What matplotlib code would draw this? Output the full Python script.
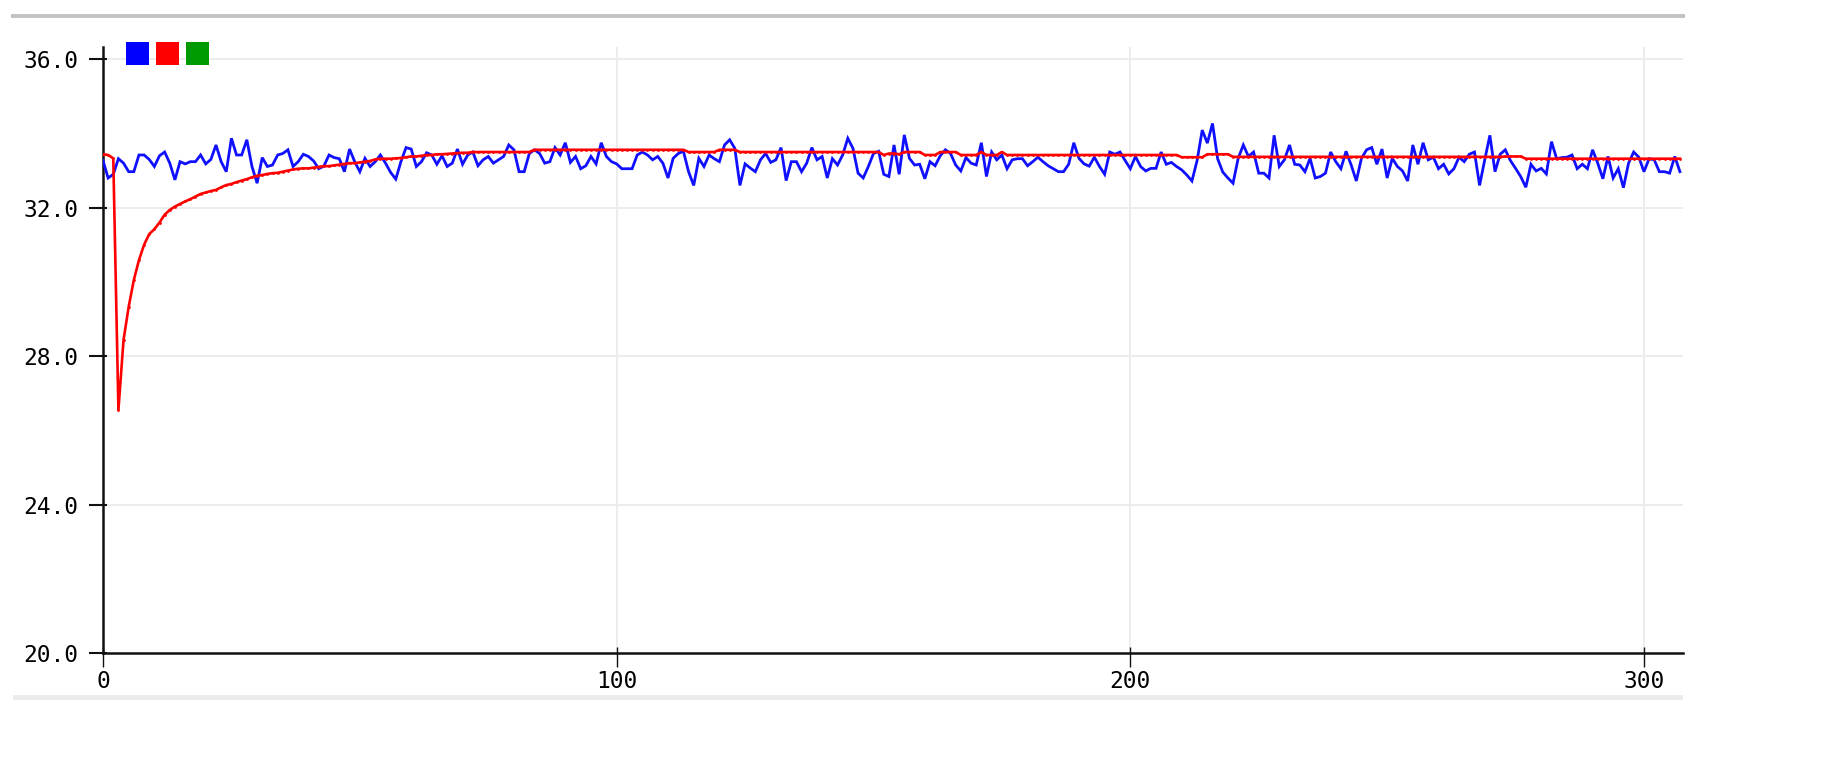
import numpy as np
import matplotlib
matplotlib.use("Agg")
import matplotlib.pyplot as plt
from matplotlib.lines import Line2D
from matplotlib.patches import Rectangle

# ---------------- data ----------------
blue = [
    33.27, 32.80, 32.90, 33.32, 33.20, 32.97, 32.97, 33.42, 33.42, 33.30,
    33.11, 33.40, 33.50, 33.20, 32.75, 33.24, 33.18, 33.24, 33.24, 33.42,
    33.18, 33.30, 33.69, 33.24, 32.97, 33.87, 33.42, 33.42, 33.83, 33.11,
    32.66, 33.35, 33.11, 33.15, 33.42, 33.46, 33.56, 33.11, 33.24,
    33.44, 33.38, 33.26, 33.05, 33.12, 33.42, 33.35, 33.32, 32.97, 33.58,
    33.24, 32.97, 33.33, 33.11, 33.24, 33.42, 33.20, 32.95, 32.77, 33.24,
    33.62, 33.58, 33.11, 33.24, 33.48, 33.42, 33.17, 33.40, 33.11, 33.20,
    33.58, 33.17, 33.42, 33.50, 33.13, 33.29, 33.38, 33.20,
    33.29,
    33.38, 33.69, 33.56, 32.97, 32.97, 33.46, 33.56, 33.46, 33.20, 33.24,
    33.62, 33.42, 33.75, 33.22, 33.38, 33.05, 33.13, 33.38, 33.18, 33.75,
    33.38, 33.24, 33.18, 33.05, 33.05, 33.05, 33.42, 33.50, 33.42, 33.29,
    33.38, 33.20, 32.80, 33.33, 33.46, 33.52, 32.97, 32.60, 33.33,
    33.11, 33.42, 33.32, 33.24, 33.69, 33.83, 33.60, 32.60, 33.18, 33.07,
    32.97, 33.29, 33.46, 33.22, 33.29, 33.62, 32.73, 33.24, 33.24, 32.97,
    33.20, 33.62, 33.29, 33.38, 32.80, 33.32, 33.15, 33.42, 33.87, 33.60,
    32.93, 32.80, 33.11, 33.46, 33.52, 32.90, 32.84, 33.69, 32.90,
    33.96, 33.33, 33.15, 33.17, 32.78, 33.24, 33.13, 33.40, 33.56, 33.46,
    33.15, 32.99, 33.35, 33.20, 33.15, 33.75, 32.84, 33.50, 33.29, 33.42,
    33.05, 33.29, 33.32, 33.32, 33.13, 33.24, 33.36, 33.24, 33.13, 33.05,
    32.97, 32.97, 33.17, 33.75, 33.33, 33.18, 33.12, 33.36, 33.11,
    32.90, 33.50, 33.44, 33.50, 33.27, 33.05, 33.38, 33.11, 32.99, 33.06,
    33.06, 33.50, 33.17, 33.22, 33.11, 33.02, 32.88, 32.72, 33.27, 34.09,
    33.74, 34.27, 33.32, 32.96, 32.80, 32.66, 33.33, 33.69, 33.38, 33.50,
    32.93, 32.93, 32.80, 33.95, 33.11, 33.29, 33.69, 33.17, 33.15,
    32.97, 33.33, 32.80, 32.84, 32.93, 33.50, 33.24, 33.05, 33.52, 33.15,
    32.72, 33.33, 33.56, 33.62, 33.17, 33.58, 32.80, 33.33, 33.11, 32.99,
    32.72, 33.69, 33.17, 33.75, 33.29, 33.36, 33.05, 33.17, 32.91, 33.05,
    33.36, 33.24, 33.44, 33.50, 32.60, 33.29, 33.95, 32.97, 33.44,
    33.56, 33.27, 33.06, 32.84, 32.55, 33.17, 32.99, 33.06, 32.91, 33.78,
    33.32, 33.35, 33.36, 33.42, 33.05, 33.17, 33.05, 33.56, 33.20, 32.78,
    33.38, 32.80, 33.05, 32.54, 33.20, 33.50, 33.36, 32.97, 33.32, 33.29,
    32.97, 32.97, 32.93, 33.38, 32.97,
]

red = (
    [33.44, 33.42, 33.33, 26.55, 28.44, 29.33, 30.05, 30.59, 31.00, 31.29,
     31.42, 31.60, 31.81, 31.94, 32.03, 32.10, 32.17, 32.23, 32.30, 32.37,
     32.41, 32.45, 32.48, 32.55, 32.61, 32.64, 32.69, 32.73, 32.77, 32.82,
     32.86, 32.88, 32.91, 32.93, 32.94, 32.97, 33.00, 33.03, 33.05,
     33.06, 33.06, 33.08, 33.10, 33.12, 33.12, 33.14, 33.16, 33.18, 33.20,
     33.20, 33.22, 33.24, 33.26, 33.30, 33.32, 33.32, 33.32, 33.33, 33.34,
     33.36, 33.38, 33.38, 33.40, 33.42, 33.42, 33.44, 33.44, 33.45, 33.46,
     33.47, 33.48, 33.48]
    + [33.50] * 12
    + [33.56] * 30
    + [33.50] * 6
    + [33.56] * 4
    + [33.50] * 28
    + [33.42, 33.46, 33.46, 33.44]
    + [33.50] * 4
    + [33.42] * 3
    + [33.50] * 4
    + [33.42] * 4
    + [33.50]
    + [33.42] * 3
    + [33.50]
    + [33.42] * 34
    + [33.36] * 5
    + [33.44] * 5
    + [33.37] * 53
    + [33.38] * 4
    + [33.32] * 31
)

green = []  # third channel present in legend, no data drawn

x_ticks = [0, 100, 200, 300]
y_ticks = [20.0, 24.0, 28.0, 32.0, 36.0]
y_tick_labels = ["20.0", "24.0", "28.0", "32.0", "36.0"]
legend_colors = ["#0000ff", "#ff0000", "#009900"]

# ---------------- figure ----------------
W, H = 1828, 770
fig = plt.figure(figsize=(W / 100, H / 100), dpi=100)
fig.patch.set_facecolor("white")

ax_left, ax_right = 103, 1683
ax_top, ax_bottom = 47, 653
ax = fig.add_axes([ax_left / W, 1 - ax_bottom / H,
                   (ax_right - ax_left) / W, (ax_bottom - ax_top) / H])

mono = "DejaVu Sans Mono"

ax.plot(np.arange(len(blue)), blue, color="#1010ff", lw=2.0,
        solid_joinstyle="miter", zorder=3)
ax.plot(np.arange(len(red)), red, color="#ff0000", lw=1.9,
        marker="o", ms=2.0, mew=0, zorder=4)

ax.set_xlim(0, 307.6)
ax.set_ylim(20, 36.33)

ax.set_xticks(x_ticks)
ax.set_xticklabels([str(t) for t in x_ticks], fontfamily=mono, fontsize=16.5)
ax.set_yticks(y_ticks)
ax.set_yticklabels(y_tick_labels, fontfamily=mono, fontsize=16.5)

# grid (skip lines that sit on the axes)
for gx in x_ticks[1:]:
    ax.axvline(gx, color="#ececec", lw=1.4, zorder=1)
for gy in y_ticks[1:]:
    ax.axhline(gy, color="#ececec", lw=1.4, zorder=1)

for s in ["top", "right"]:
    ax.spines[s].set_visible(False)
for s in ["left", "bottom"]:
    ax.spines[s].set_linewidth(1.8)
    ax.spines[s].set_color("#111111")

ax.tick_params(axis="y", direction="out", length=10, width=1.5,
               color="#111111", pad=7.5)
ax.tick_params(axis="x", direction="out", length=10, width=1.0,
               color="#111111", pad=2.5)
# small inner part of the crossing ticks
ax.yaxis.remove_overlapping_locs = False
ax.xaxis.remove_overlapping_locs = False
ax.set_yticks(y_ticks, minor=True)
ax.set_xticks(x_ticks, minor=True)
ax.tick_params(axis="y", which="minor", direction="in", length=3, width=1.5,
               color="#111111")
ax.tick_params(axis="x", which="minor", direction="in", length=4.5, width=1.0,
               color="#111111")

# legend squares (channel colours)
sq = 23
for k, c in enumerate(legend_colors):
    x0 = 126 + 30 * k
    y0 = 42
    fig.add_artist(Rectangle((x0 / W, 1 - (y0 + sq) / H), sq / W, sq / H,
                             transform=fig.transFigure, facecolor=c,
                             edgecolor="none"))

# frame decorations of the plotter window
fig.add_artist(Line2D([13 / W, 1683 / W], [1 - 16 / H, 1 - 16 / H],
                      transform=fig.transFigure, color="#c2c2c2", lw=2.8))
fig.add_artist(Rectangle((13 / W, 1 - 700 / H), (1683 - 13) / W, 5 / H,
                         transform=fig.transFigure, facecolor="#ececec",
                         edgecolor="none"))

fig.savefig("out.png", dpi=100, facecolor="white")
